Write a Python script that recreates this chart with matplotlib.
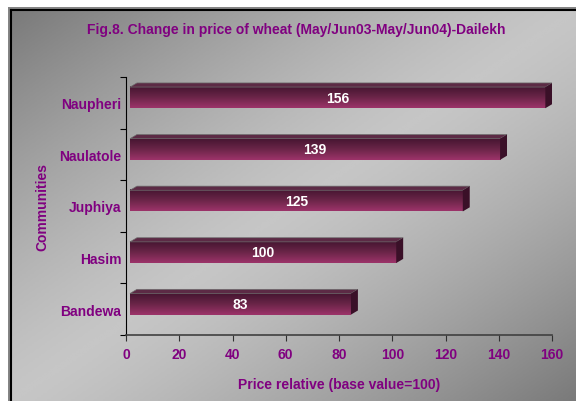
import numpy as np
import matplotlib.pyplot as plt
from matplotlib.colors import LinearSegmentedColormap
from matplotlib.patches import Polygon, Rectangle

plt.rcParams['font.family'] = ['Liberation Sans', 'DejaVu Sans']

# Data
communities = ['Bandewa', 'Hasim', 'Juphiya', 'Naulatole', 'Naupheri']
price_rel = [83, 100, 125, 139, 156]
xticks = [0, 20, 40, 60, 80, 100, 120, 140, 160]

purple = '#800080'
fs = 10

fig = plt.figure(figsize=(5.76, 4.02), dpi=100)
W, H = 576, 402

# grey margin + gradient panel
fig.patches.append(Rectangle((8 / W, 0), 1, 1 - 8 / H, transform=fig.transFigure,
                             facecolor='#858585', edgecolor='none', zorder=-1))
bg = fig.add_axes([11 / W, 0, 1 - 11 / W, 1 - 11 / H], zorder=0.5)
gx, gy = np.meshgrid(np.linspace(0, 1, 300), np.linspace(0, 1, 200))
t = (gx + gy) / 2
val = 1 - np.abs(2 * t - 1) ** 1.3
bgcmap = LinearSegmentedColormap.from_list('bg', ['#7a7a7a', '#c6c6c6'])
bg.imshow(val, cmap=bgcmap, aspect='auto', extent=[0, 1, 0, 1], origin='upper')
bg.set_xticks([])
bg.set_yticks([])
for s in ['right', 'bottom']:
    bg.spines[s].set_visible(False)
for s in ['left', 'top']:
    bg.spines[s].set_color('black')
    bg.spines[s].set_linewidth(1.5)

ax = fig.add_axes([126 / W, 1 - 336 / H, 426 / W, 258 / H], zorder=1)
ax.patch.set_alpha(0)

front_cmap = LinearSegmentedColormap.from_list('bar', ['#451530', '#6a2548', '#9c3369'])
grad = np.linspace(0, 1, 50).reshape(-1, 1)

shift = 1.5      # front face shift (data x units)
h = 0.41         # front face height
ddx, ddy = 2.6, 0.08   # 3d depth
for i, v in enumerate(price_rel):
    c = i + 0.10
    x0, x1 = shift, v + shift
    y0, y1 = c - h / 2, c + h / 2
    ax.imshow(grad, cmap=front_cmap, aspect='auto', extent=[x0, x1, y0, y1],
              origin='upper', zorder=3)
    top = Polygon([(x0, y1), (x1, y1), (x1 + ddx, y1 + ddy), (x0 + ddx, y1 + ddy)],
                  closed=True, facecolor='#5c2a45', edgecolor='#6e6e6e', lw=0.5, zorder=3)
    side = Polygon([(x1, y0), (x1, y1), (x1 + ddx, y1 + ddy), (x1 + ddx, y0 + ddy)],
                   closed=True, facecolor='#3a1028', edgecolor='none', zorder=3)
    ax.add_patch(top)
    ax.add_patch(side)
    ax.text((x0 + x1) / 2, c, str(v), color='white', fontsize=fs, fontweight='bold',
            ha='center', va='center', zorder=4)

ax.set_xlim(0, 160)
ax.set_ylim(-0.5, 4.5)
ax.set_xticks(xticks)
ax.set_xticklabels([str(x) for x in xticks], color=purple, fontsize=fs, fontweight='bold')
ax.tick_params(axis='x', direction='out', length=4, color='#303030', pad=5)

ax.set_yticks(np.arange(-0.5, 5, 1))
ax.set_yticklabels([])
ax.tick_params(axis='y', which='major', direction='out', length=4, color='black')
ax.set_yticks(np.arange(5), minor=True)
ax.set_yticklabels(communities, minor=True, color=purple, fontsize=fs, fontweight='bold')
ax.tick_params(axis='y', which='minor', length=0, pad=3.5)

for s in ['top', 'right']:
    ax.spines[s].set_visible(False)
ax.spines['left'].set_color('black')
ax.spines['bottom'].set_color('#404040')
ax.spines['bottom'].set_linewidth(1.2)

ax.set_xlabel('Price relative (base value=100)', color=purple, fontsize=fs,
              fontweight='bold', labelpad=11)
fig.text(42 / W, 1 - 207 / H, 'Communities', rotation=90, color=purple, fontsize=fs,
         fontweight='bold', ha='center', va='center')
fig.text(296 / W, 1 - 30 / H, 'Fig.8. Change in price of wheat (May/Jun03-May/Jun04)-Dailekh',
         color=purple, fontsize=fs, fontweight='bold', ha='center', va='center')

fig.savefig('out.png', dpi=100)
